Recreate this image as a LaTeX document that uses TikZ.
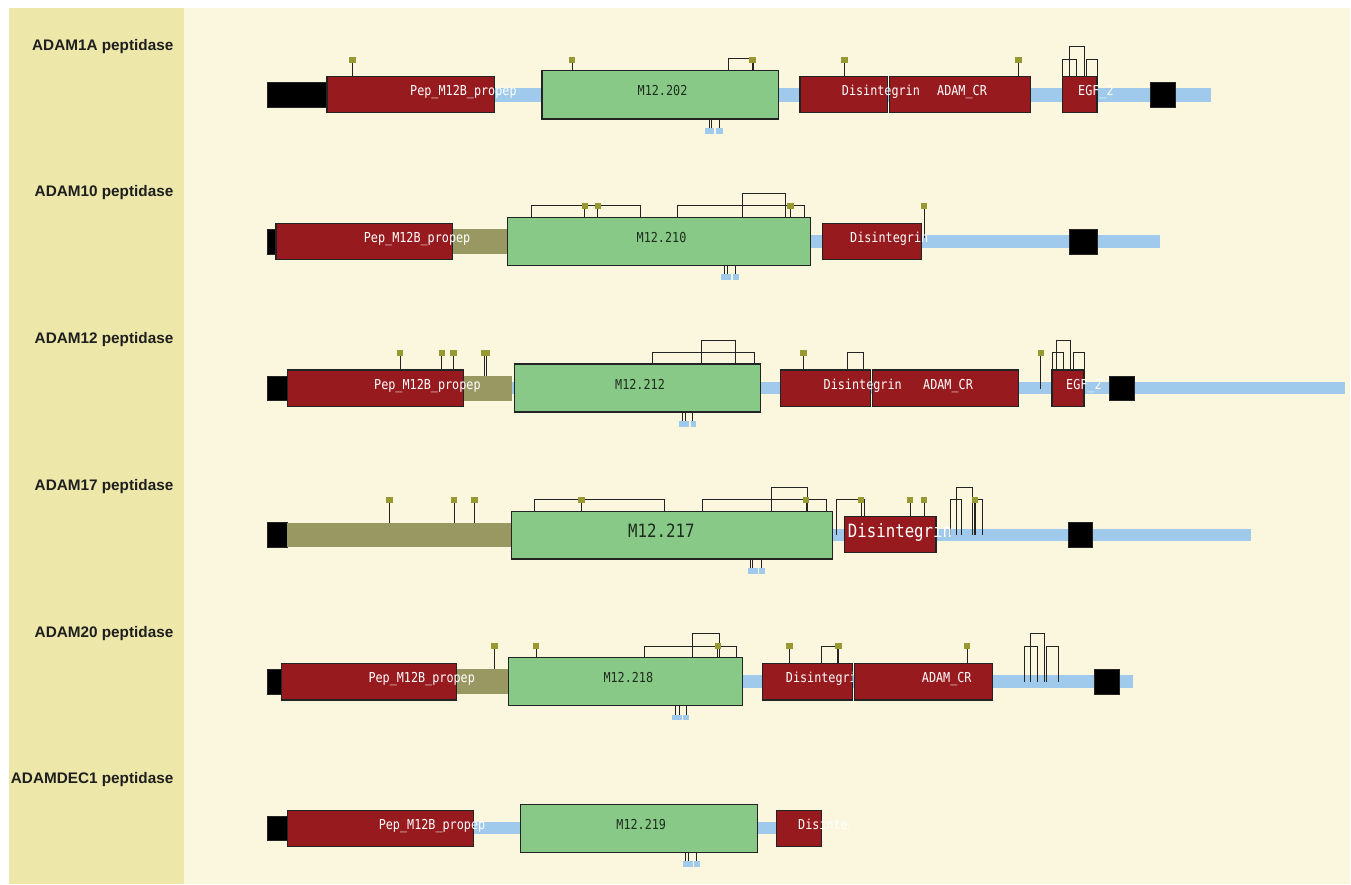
\documentclass[tikz,border=0pt]{standalone}
\usepackage{fontspec}
\setmainfont{Liberation Sans}
\newfontfamily\domf[FakeStretch=0.86]{DejaVu Sans Mono}
\definecolor{pred}{RGB}{151,26,30}
\definecolor{pgreen}{RGB}{136,201,136}
\definecolor{pblue}{RGB}{160,202,236}
\definecolor{polive}{RGB}{154,152,98}
\definecolor{ppin}{RGB}{153,153,51}
\definecolor{pleft}{RGB}{237,232,170}
\definecolor{pright}{RGB}{251,246,222}
\definecolor{pline}{RGB}{35,35,35}
\definecolor{pgtext}{RGB}{30,45,30}
\tikzset{
  redbox/.style={fill=pred,draw=pline,line width=1.1pt},
  greenbox/.style={fill=pgreen,draw=pline,line width=1.1pt},
  blackbox/.style={fill=black,draw=pline,line width=0.6pt},
  olivebar/.style={fill=polive},
  blueline/.style={fill=pblue},
  stem/.style={draw=pline,line width=0.9pt},
  domtext/.style={anchor=base west,inner sep=0pt,text=white,font=\domf\fontsize{13.7}{14}\selectfont},
  domtextg/.style={domtext,text=pgtext},
  bigtext/.style={anchor=base west,inner sep=0pt,text=white,font=\domf\fontsize{18.3}{19}\selectfont},
  rowlabel/.style={anchor=base east,inner sep=0pt,text={rgb,255:red,30;green,30;blue,30},font=\bfseries\fontsize{15.3}{16}\selectfont}
}
% pin: x, stem bottom y, square top y
\newcommand{\pinm}[3]{\draw[stem] (#1,#3+2.5) -- (#1,#2); \fill[ppin] (#1-3.2,#3) rectangle (#1+3.2,#3+6);}
% bracket: x1, x2, top y, left bottom y, right bottom y
\newcommand{\brkm}[5]{\draw[stem] (#1,#4) -- (#1,#3) -- (#2,#3) -- (#2,#5);}
% stems below green box: x1 x2 x3, y top, y bottom
\newcommand{\lowm}[5]{\draw[stem] (#1,#4) -- (#1,#5); \draw[stem] (#2,#4) -- (#2,#5); \draw[stem] (#3,#4) -- (#3,#5);}
\begin{document}
\begin{tikzpicture}[x=1pt,y=-1pt]
\useasboundingbox (0,0) rectangle (1351,885);
\fill[white] (0,0) rectangle (1351,885);
\fill[pleft] (9,8.3) rectangle (183.5,884);
\fill[pright] (183.5,8.3) rectangle (1350,884);

% row labels
\node[rowlabel] (l1) at (173.5,50.3) {ADAM1A peptidase};
\node[rowlabel] (l2) at (173.5,197) {ADAM10 peptidase};
\node[rowlabel] (l3) at (173.5,343.7) {ADAM12 peptidase};
\node[rowlabel] (l4) at (173.5,490.4) {ADAM17 peptidase};
\node[rowlabel] (l5) at (173.5,637.1) {ADAM20 peptidase};
\node[rowlabel] (l6) at (173.5,783.8) {ADAMDEC1 peptidase};

% ================= Row 1 =================
\fill[blueline] (267,88.3) rectangle (1211,101.7);
\draw[blackbox] (267,82.3) rectangle (327,107.3);
\pinm{352.5}{76.7}{56.7}
\draw[redbox] (327,76.7) rectangle (494.6,112.7);
\pinm{572}{70.7}{56.7}
\brkm{728.6}{753.6}{58.7}{70.7}{70.7}
\pinm{752.5}{70.7}{56.7}
\lowm{709}{711.8}{719.6}{119}{127.7}
\fill[pblue] (705,127.7) rectangle (714,133.7);
\fill[pblue] (716,127.7) rectangle (723,133.7);
\draw[greenbox] (542,70.7) rectangle (778.6,119);
\pinm{844.3}{76.7}{56.7}
\pinm{1018.3}{76.7}{56.7}
\draw[redbox] (800,76.7) rectangle (887.3,112.7);
\draw[redbox] (889.3,76.7) rectangle (1030.3,112.7);
\brkm{1062.3}{1076.7}{59}{76.7}{76.7}
\brkm{1069.3}{1084}{46.7}{76.7}{76.7}
\brkm{1086.3}{1097}{59}{76.7}{76.7}
\draw[redbox] (1062.3,76.7) rectangle (1097,112.7);
\draw[blackbox] (1150.7,82.3) rectangle (1175.3,107.3);
\node[domtext] (t1a) at (410,95.7) {Pep\_M12B\_propep};
\node[domtextg] (t1b) at (637.5,95.7) {M12.202};
\node[domtext] (t1c) at (841.7,95.7) {Disintegrin};
\node[domtext] (t1d) at (937,95.7) {ADAM\_CR};
\node[domtext] (t1e) at (1078,95.7) {EGF\_2};

% ================= Row 2 =================
\fill[blueline] (267,235) rectangle (1160,248);
\draw[blackbox] (267.2,229) rectangle (276,254);
\draw[redbox] (276,223.3) rectangle (452.8,259.3);
\fill[olivebar] (452.8,229.3) rectangle (507.6,254);
\brkm{531.3}{640.4}{205.3}{217.3}{217.3}
\brkm{677.5}{804.9}{205.3}{217.3}{217.3}
\brkm{742.5}{785.8}{193.7}{217.3}{217.3}
\pinm{584.9}{217.3}{203.3}
\pinm{597.9}{217.3}{203.3}
\pinm{790.4}{217.3}{203.3}
\lowm{724.5}{727.2}{735.3}{265.3}{274.3}
\fill[pblue] (720.7,274.3) rectangle (731,280);
\fill[pblue] (733,274.3) rectangle (738.7,280);
\draw[greenbox] (507.6,217.3) rectangle (810.7,265.3);
\pinm{924}{238.3}{203.3}
\draw[redbox] (822.3,223.3) rectangle (921.7,259.7);
\draw[blackbox] (1069.3,229) rectangle (1097.7,254);
\node[domtext] (t2a) at (363.7,242.5) {Pep\_M12B\_propep};
\node[domtextg] (t2b) at (636.5,242.5) {M12.210};
\node[domtext] (t2c) at (850,242.5) {Disintegrin};

% ================= Row 3 =================
\fill[blueline] (267,381.7) rectangle (1345,394.3);
\draw[blackbox] (267,376) rectangle (287.9,400.7);
\pinm{400}{370}{350}
\pinm{441.8}{370}{350}
\pinm{453.6}{370}{350}
\draw[redbox] (287.9,370) rectangle (463.6,406.3);
\fill[olivebar] (463.6,376) rectangle (511.8,400.7);
\pinm{484}{376}{350}
\pinm{486.4}{376}{350}
\brkm{652}{754.6}{352.7}{364}{364}
\brkm{701.8}{735.7}{340.7}{364}{364}
\lowm{682}{685}{692.9}{412}{421}
\fill[pblue] (679,421) rectangle (689,426.7);
\fill[pblue] (691,421) rectangle (696.4,426.7);
\draw[greenbox] (514.3,364) rectangle (760.7,412);
\pinm{803.6}{370}{350}
\brkm{847.6}{863.3}{352.7}{370}{370}
\draw[redbox] (780.6,370) rectangle (870.5,406.3);
\draw[redbox] (872.5,370) rectangle (1018.7,406.3);
\pinm{1040.9}{388.7}{350}
\brkm{1052}{1063.8}{352.7}{370}{370}
\brkm{1056.5}{1070.7}{340.7}{370}{370}
\brkm{1073.8}{1084}{352.7}{370}{370}
\draw[redbox] (1052,370) rectangle (1084,406.3);
\draw[blackbox] (1109.7,376) rectangle (1134.6,400.7);
\node[domtext] (t3a) at (374,389.3) {Pep\_M12B\_propep};
\node[domtextg] (t3b) at (615,389.3) {M12.212};
\node[domtext] (t3c) at (823.5,389.3) {Disintegrin};
\node[domtext] (t3d) at (923,389.3) {ADAM\_CR};
\node[domtext] (t3e) at (1066,389.3) {EGF\_2};

% ================= Row 4 =================
\fill[blueline] (267,528.7) rectangle (1250.7,541);
\draw[blackbox] (267.2,522.7) rectangle (287.1,547.3);
\fill[olivebar] (287.1,522.7) rectangle (511.4,547.3);
\pinm{389.3}{522.7}{496.7}
\pinm{454}{522.7}{496.7}
\pinm{474.3}{522.7}{496.7}
\brkm{534.7}{664}{499.3}{511.3}{511.3}
\brkm{702.4}{826.7}{499.3}{511.3}{511.3}
\brkm{771.2}{807.2}{487}{511.3}{511.3}
\pinm{581.4}{511.3}{496.7}
\pinm{806}{511.3}{496.7}
\lowm{750.2}{752.9}{761.3}{559}{568.3}
\fill[pblue] (747.5,568.3) rectangle (757.8,573.7);
\fill[pblue] (759.4,568.3) rectangle (765.1,573.7);
\draw[greenbox] (511.4,511.3) rectangle (832.9,559);
\brkm{836.7}{864.3}{499.3}{535}{516.7}
\pinm{861}{516.7}{496.7}
\pinm{910}{516.7}{496.7}
\pinm{924}{516.7}{496.7}
\draw[redbox] (844.3,516.7) rectangle (936,552.7);
\brkm{950.7}{961.3}{499.3}{535}{535}
\brkm{956.3}{972}{487}{535}{535}
\brkm{974.3}{982.7}{499.3}{535}{535}
\pinm{975}{535}{496.7}
\draw[blackbox] (1068.3,522.7) rectangle (1092.7,547.3);
\node[bigtext,text=pgtext] (t4b) at (628,537.5) {M12.217};
\node[bigtext] (t4c) at (847.7,537.5) {Disintegrin};

% ================= Row 5 =================
\fill[blueline] (267,675) rectangle (1133.3,687.7);
\draw[blackbox] (267.3,669.3) rectangle (281.7,694);
\draw[redbox] (281.7,663.3) rectangle (456.7,700);
\fill[olivebar] (456.7,669.3) rectangle (508.7,694);
\pinm{494.3}{669.3}{643.3}
\pinm{536}{657.7}{643.3}
\brkm{644.7}{736.7}{646}{657.7}{657.7}
\brkm{692.3}{719}{633.7}{657.7}{657.7}
\pinm{717.7}{657.7}{643.3}
\lowm{675}{679.3}{686}{705.7}{715}
\fill[pblue] (671.7,715) rectangle (682.3,720);
\fill[pblue] (683.3,715) rectangle (689.3,720);
\draw[greenbox] (508.7,657.7) rectangle (742.7,705.7);
\pinm{789.3}{663.3}{643.3}
\brkm{821.3}{837}{646}{663.3}{663.3}
\pinm{838.3}{663.3}{643.3}
\draw[redbox] (762.7,663.3) rectangle (852.7,700);
\begin{scope}
\clip (762.7,660) rectangle (852.7,703);
\node[domtext] (t5c) at (785.7,682.7) {Disintegrin};
\end{scope}
\pinm{967}{663.3}{643.3}
\draw[redbox] (854.3,663.3) rectangle (992.3,700);
\brkm{1024}{1037.7}{646}{682}{682}
\brkm{1030}{1044.7}{633.7}{682}{682}
\brkm{1046.3}{1058}{646}{682}{682}
\draw[blackbox] (1094.3,669.3) rectangle (1119.3,694);
\node[domtext] (t5a) at (368.3,682.7) {Pep\_M12B\_propep};
\node[domtextg] (t5b) at (603.3,682.7) {M12.218};
\node[domtext] (t5d) at (921.7,682.7) {ADAM\_CR};

% ================= Row 6 =================
\fill[blueline] (267,821.7) rectangle (822,834.3);
\draw[blackbox] (267.2,816) rectangle (287.5,840.7);
\draw[redbox] (287.5,810.3) rectangle (473.1,846.7);
\lowm{685.5}{688.2}{696.6}{852.3}{861}
\fill[pblue] (682.8,861) rectangle (692.8,866.7);
\fill[pblue] (694.3,861) rectangle (700.4,866.7);
\draw[greenbox] (520.6,804.7) rectangle (757.1,852.3);
\draw[redbox] (776.2,810.3) rectangle (821.4,846.7);
\begin{scope}
\clip (770,805) rectangle (848,850);
\node[domtext] (t6c) at (798,829.4) {Disintegrin};
\end{scope}
\node[domtext] (t6a) at (378.6,829.4) {Pep\_M12B\_propep};
\node[domtextg] (t6b) at (616.2,829.4) {M12.219};
\end{tikzpicture}
\end{document}
